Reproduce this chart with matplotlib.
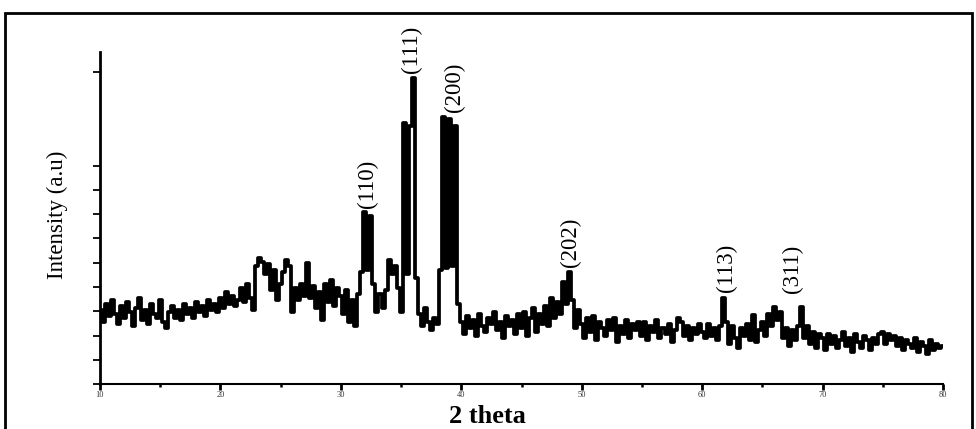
import matplotlib
matplotlib.use("Agg")
import matplotlib.pyplot as plt
import numpy as np
from matplotlib.patches import Rectangle

# XRD scan: 2 theta from 10 to 80 deg, step 0.25
two_theta = np.arange(10, 80.001, 0.25)
intensity = [
    # 10.00 - 14.75
    74, 62, 80, 68, 84, 70, 60, 78, 66, 82, 72, 58, 76, 86, 64, 74, 60, 80, 70, 66,
    # 15.00 - 19.75
    84, 62, 56, 72, 78, 66, 74, 64, 80, 70, 76, 66, 82, 72, 78, 68, 84, 74, 80, 72,
    # 20.00 - 24.75
    86, 76, 92, 80, 88, 78, 84, 96, 82, 100, 86, 74, 118, 126, 122, 110, 120, 94, 114, 84,
    # 25.00 - 29.75
    100, 112, 124, 118, 72, 96, 84, 100, 88, 121, 86, 98, 76, 92, 64, 100, 82, 104, 78, 96,
    # 30.00 - 34.75
    88, 70, 94, 62, 84, 58, 90, 112, 172, 114, 168, 100, 72, 90, 76, 94, 124, 110, 118, 96,
    # 35.00 - 39.75
    72, 261, 110, 258, 306, 106, 70, 58, 76, 62, 54, 66, 60, 114, 267, 116, 265, 118, 258, 80,
    # 40.00 - 44.75
    62, 50, 68, 56, 64, 48, 70, 58, 52, 66, 60, 72, 54, 62, 46, 68, 58, 64, 50, 70,
    # 45.00 - 49.75
    56, 72, 48, 66, 76, 52, 70, 60, 78, 58, 86, 66, 82, 70, 102, 80, 112, 84, 56, 74,
    # 50.00 - 54.75
    60, 46, 66, 52, 68, 44, 62, 56, 48, 64, 54, 66, 42, 58, 50, 64, 46, 60, 54, 62,
    # 55.00 - 59.75
    48, 62, 44, 58, 52, 64, 46, 56, 50, 60, 42, 54, 66, 62, 48, 58, 44, 56, 50, 60,
    # 60.00 - 64.75
    52, 46, 60, 48, 56, 44, 58, 86, 62, 40, 58, 46, 36, 56, 48, 60, 44, 69, 42, 54,
    # 65.00 - 69.75
    62, 48, 70, 58, 77, 64, 72, 46, 56, 38, 54, 44, 58, 77, 46, 58, 40, 52, 36, 50,
    # 70.00 - 74.75
    46, 34, 50, 40, 48, 36, 44, 52, 38, 46, 32, 50, 42, 36, 48, 44, 34, 46, 40, 50,
    # 75.00 - 79.75
    52, 40, 50, 44, 48, 38, 46, 34, 44, 40, 36, 46, 32, 42, 38, 30, 44, 34, 40, 36,
    # 80.00
    38,
]

peak_labels = ["(110)", "(111)", "(200)", "(202)", "(113)", "(311)"]
peak_pos = [32.2, 35.85, 39.4, 49.1, 62.0, 67.5]
peak_top = [176, 311, 272, 117, 92, 91]

x_ticks = [10, 20, 30, 40, 50, 60, 70, 80]
y_ticks = [0, 24, 48, 73, 97, 121, 146, 170, 194, 218, 312]

plt.rcParams['font.family'] = ['Liberation Serif', 'DejaVu Serif']

fig = plt.figure(figsize=(9.76, 4.29), dpi=100)
ax = fig.add_axes([100 / 976, 1 - 384 / 429, 843 / 976, 332 / 429])

ax.plot(two_theta, intensity, color='black', linewidth=2.7, drawstyle='steps-mid')

for lab, x, y in zip(peak_labels, peak_pos, peak_top):
    ax.text(x, y, lab, rotation=90, ha='center', va='bottom', fontsize=16.5,
            color='black', clip_on=False)

ax.set_xlim(10, 80)
ax.set_ylim(0, 332)
ax.spines['top'].set_visible(False)
ax.spines['right'].set_visible(False)
ax.spines['left'].set_linewidth(2)
ax.spines['bottom'].set_linewidth(1.5)

ax.set_xticks(x_ticks)
ax.set_xticks(np.arange(15, 80, 10), minor=True)
ax.set_xticklabels([str(t) for t in x_ticks])
ax.tick_params(axis='x', which='major', direction='out', length=4, width=2,
               labelsize=6, pad=1, labelcolor='#333333')
ax.tick_params(axis='x', which='minor', direction='out', length=2, width=1.8)
ax.set_yticks(y_ticks)
ax.set_yticklabels([])
ax.tick_params(axis='y', direction='out', length=5, width=1.3)

fig.text(57 / 976, 1 - 215 / 429, 'Intensity (a.u)', rotation=90, ha='center',
         va='center', fontsize=16.5)
fig.text(487 / 976, 1 - 428 / 429, '2 theta', ha='center', va='bottom',
         fontsize=19, fontweight='bold')

# outer frame of the picture
fig.add_artist(Rectangle((5 / 976, -0.1), 967 / 976, 1.1 - 13 / 429,
                         transform=fig.transFigure, fill=False,
                         edgecolor='black', linewidth=2))

fig.savefig('out.png', dpi=100)
